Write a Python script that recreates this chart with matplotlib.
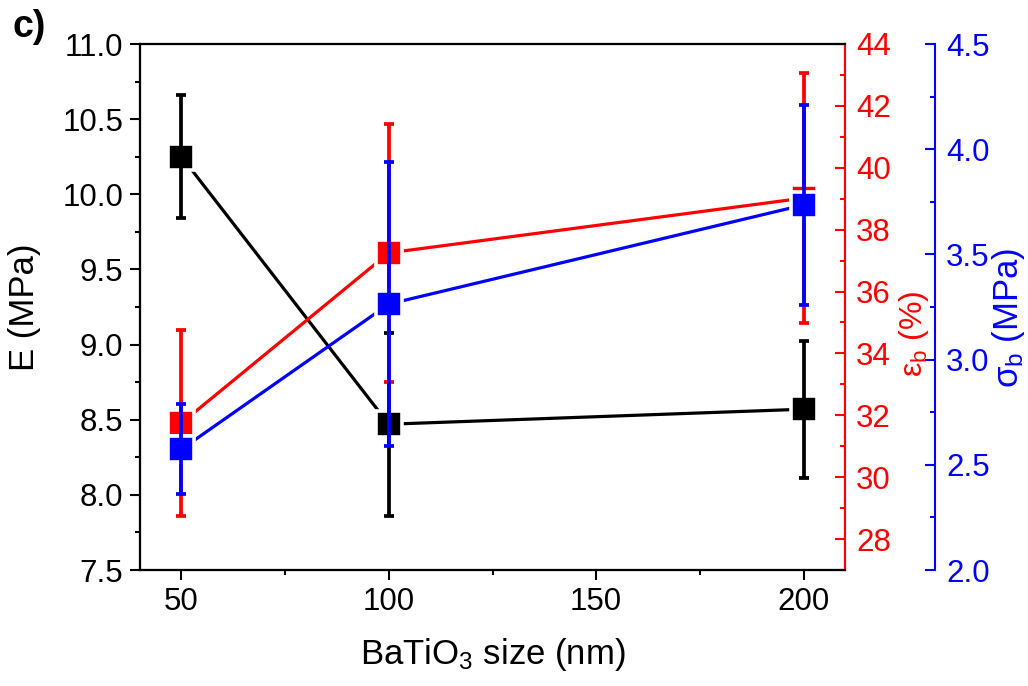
import matplotlib
matplotlib.use('Agg')
import matplotlib.pyplot as plt
from matplotlib.ticker import MultipleLocator

plt.rcParams['font.family'] = ['Liberation Sans', 'DejaVu Sans']
plt.rcParams['mathtext.fontset'] = 'custom'
plt.rcParams['mathtext.rm'] = 'Liberation Sans'
plt.rcParams['mathtext.it'] = 'Liberation Sans:italic'

# data
size_nm = [50, 100, 200]
modulus = [10.25, 8.47, 8.57]
modulus_err = [0.41, 0.61, 0.455]
strain = [31.75, 37.25, 39.02]
strain_err = [3.02, 4.18, 4.05]
stress = [2.574, 3.264, 3.735]
stress_err = [0.214, 0.675, 0.475]

fig = plt.figure(figsize=(10.28, 6.86), dpi=100)
ax = fig.add_axes([140/1028, 116/686, 705/1028, 526/686])
ax2 = ax.twinx()
ax3 = ax.twinx()
ax3.spines['right'].set_position(('outward', 90*0.72))

def draw(a, y, yerr, col):
    a.plot(size_nm, y, '-', color=col, lw=2.3, zorder=1)
    a.plot(size_nm, y, 's', color=col, ms=18.5, mec='white', mew=2.6, zorder=2)
    a.errorbar(size_nm, y, yerr=yerr, fmt='none', ecolor=col, elinewidth=2.7,
               capsize=3.6, capthick=2.7, zorder=3)

draw(ax, modulus, modulus_err, 'black')
draw(ax2, strain, strain_err, 'red')
draw(ax3, stress, stress_err, 'blue')

ax.set_xlim(40, 210)
ax.set_ylim(7.5, 11.0)
ax2.set_ylim(27, 44)
ax3.set_ylim(2.0, 4.5)

ax.xaxis.set_major_locator(MultipleLocator(50))
ax.xaxis.set_minor_locator(MultipleLocator(25))
ax.yaxis.set_major_locator(MultipleLocator(0.5))
ax.yaxis.set_minor_locator(MultipleLocator(0.25))
ax2.yaxis.set_major_locator(MultipleLocator(2))
ax2.yaxis.set_minor_locator(MultipleLocator(1))
ax3.yaxis.set_major_locator(MultipleLocator(0.5))
ax3.yaxis.set_minor_locator(MultipleLocator(0.25))
ax.yaxis.set_major_formatter(plt.FormatStrFormatter('%.1f'))
ax3.yaxis.set_major_formatter(plt.FormatStrFormatter('%.1f'))

for a in (ax, ax2, ax3):
    for s in a.spines.values():
        s.set_linewidth(1.5)
ax.tick_params(which='major', direction='out', length=7, width=1.5, labelsize=22.5, pad=5)
ax.tick_params(which='minor', direction='out', length=3.5, width=1.5)
ax2.spines['right'].set_color('red')
ax2.tick_params(axis='y', which='major', direction='in', length=7, width=1.5,
                colors='red', labelsize=22.5, pad=8)
ax2.tick_params(axis='y', which='minor', direction='in', length=3.5, width=1.5, colors='red')
ax3.spines['right'].set_color('blue')
ax3.tick_params(axis='y', which='major', direction='in', length=7, width=1.5,
                colors='blue', labelsize=22.5, pad=8)
ax3.tick_params(axis='y', which='minor', direction='in', length=3.5, width=1.5, colors='blue')

ax.set_xlabel('BaTiO$_\\mathregular{3}$ size (nm)', fontsize=25)
ax.xaxis.set_label_coords(0.5, -0.125)
ax.set_ylabel('E (MPa)', fontsize=25)
ax.yaxis.set_label_coords(-0.14, 0.5)
ax2.set_ylabel('$\\mathregular{ε_b}$ (%)', fontsize=23, color='red')
ax2.yaxis.set_label_coords(1.074, 0.45)
ax3.set_ylabel('$\\mathregular{σ_b}$ (MPa)', fontsize=25, color='blue')
ax3.yaxis.set_label_coords(1.206, 0.48)

fig.text(13/1028, 1 - 37/686, 'c)', fontsize=27, fontweight='bold', va='baseline')

fig.savefig('out.png', dpi=100)
